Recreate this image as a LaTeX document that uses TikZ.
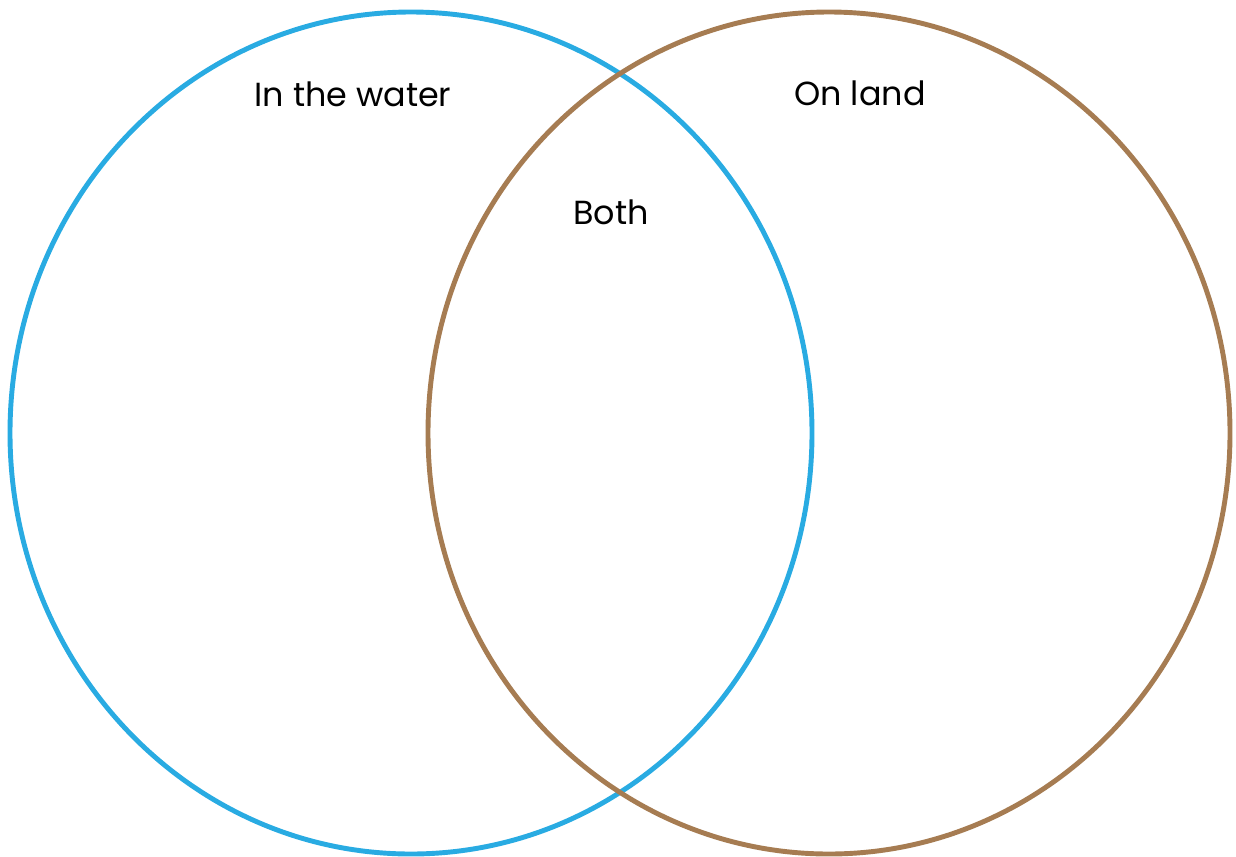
\documentclass[tikz,border=0pt]{standalone}
\usepackage{fontspec}
\setmainfont{Poppins}
\definecolor{waterblue}{RGB}{41,171,226}
\definecolor{landbrown}{RGB}{166,124,82}
\begin{document}
\begin{tikzpicture}[x=0.02cm, y=-0.02cm, font=\fontsize{19}{23}\selectfont, line join=round, line cap=round]
		\useasboundingbox (0,0) rectangle (1236,856);
		\coordinate (W) at (411,433);
		\coordinate (L) at (829,433);
		\draw[waterblue, line width=2.8pt] (W) ellipse [x radius=401, y radius=421];
		\draw[landbrown, line width=2.8pt] (L) ellipse [x radius=401, y radius=421];
		\node (water) at (353,94) {In the water};
		\node (land) at (860,93) {On land};
		\node (both) at (611,212) {Both};
\end{tikzpicture}
\end{document}
